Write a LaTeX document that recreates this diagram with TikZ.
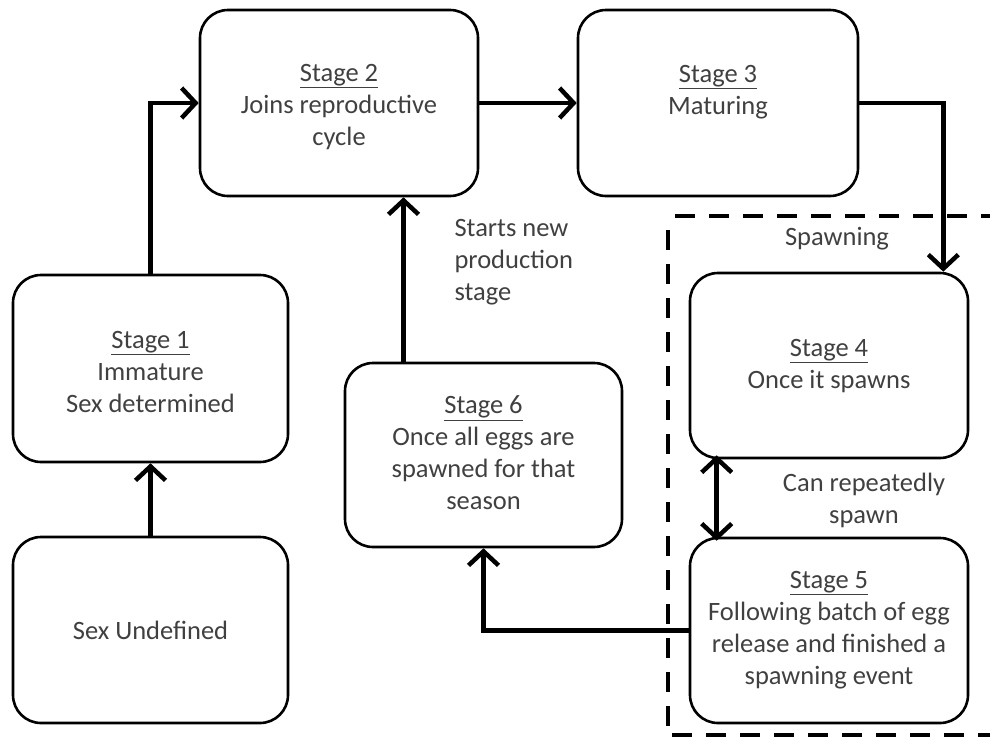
\documentclass[tikz,border=0pt]{standalone}
\usepackage{fontspec}
\setmainfont{Carlito}
\usetikzlibrary{arrows.meta}
\begin{document}
\begin{tikzpicture}[x=1pt,y=-1pt,
  box/.style={draw=black, line width=2.6pt, rounded corners=28pt, inner sep=0pt},
  txt/.style={align=center, font=\fontsize{26.5}{32}\selectfont, text=black!75},
  arr/.style={draw=black, line width=4.5pt, -{Straight Barb[length=14pt,width=30pt,line width=4.5pt]}},
  darr/.style={draw=black, line width=4.5pt, {Straight Barb[length=14pt,width=30pt,line width=4.5pt]}-{Straight Barb[length=14pt,width=30pt,line width=4.5pt]}},
  dashline/.style={draw=black, line width=3.5pt, dash pattern=on 20pt off 14pt}]
\useasboundingbox (0,0) rectangle (990,737);
% boxes
\node[box, minimum width=278pt, minimum height=186pt] (s2) at (339,103) {};
\node[box, minimum width=280pt, minimum height=186pt] (s3) at (718,103) {};
\node[box, minimum width=275pt, minimum height=187pt] (s1) at (150.5,368.5) {};
\node[box, minimum width=275pt, minimum height=186pt] (s0) at (150.5,630) {};
\node[box, minimum width=277pt, minimum height=184pt] (s6) at (483.5,455) {};
\node[box, minimum width=278pt, minimum height=185pt] (s4) at (829,365.5) {};
\node[box, minimum width=278pt, minimum height=185pt] (s5) at (829,630.5) {};
% texts
\node[txt] (t2) at (339,107) {\underline{Stage 2}\\Joins reproductive\\cycle};
\node[txt] (t3) at (718,92) {\underline{Stage 3}\\Maturing};
\node[txt] (t1) at (150.5,372) {\underline{Stage 1}\\Immature\\Sex determined};
\node[txt] (t0) at (150.5,630) {Sex Undefined};
\node[txt] (t6) at (483.5,453) {\underline{Stage 6}\\Once all eggs are\\spawned for that\\season};
\node[txt] (t4) at (829,366) {\underline{Stage 4}\\Once it spawns};
\node[txt] (t5) at (829,630) {\underline{Stage 5}\\Following batch of egg\\release and finished a\\spawning event};
% labels
\node[txt, align=left, anchor=west] (lstart) at (451,262) {Starts new\\production\\stage};
\node[txt] (lspawn) at (837,239) {Spawning};
\node[txt] (lrep) at (864,500) {Can repeatedly\\spawn};
% connectors
\draw[arr] (s0.north) -- (s1.south);
\draw[arr] (s1.north) |- (s2.west);
\draw[arr] (s2.east) -- (s3.west);
\draw[arr] (s3.east) -| ([xshift=-26pt]s4.north east);
\coordinate (p6) at ([xshift=-80pt]s6.north);
\draw[arr] (p6) -- (p6 |- s2.south);
\draw[arr] (s5.west) -| (s6.south);
\coordinate (d4) at ([xshift=28pt]s4.south west);
\draw[darr] ([yshift=4pt]d4) -- ([yshift=-4pt]d4 |- s5.north);
% spawning region
\coordinate (r1) at (675,216);
\coordinate (r2) at (990,216);
\coordinate (r3) at (668,230);
\coordinate (r4) at (668,737);
\coordinate (r5) at (672,735);
\coordinate (r6) at (990,735);
\draw[dashline] (r1) -- (r2);
\draw[dashline] (r3) -- (r4);
\draw[dashline] (r5) -- (r6);
\end{tikzpicture}
\end{document}
